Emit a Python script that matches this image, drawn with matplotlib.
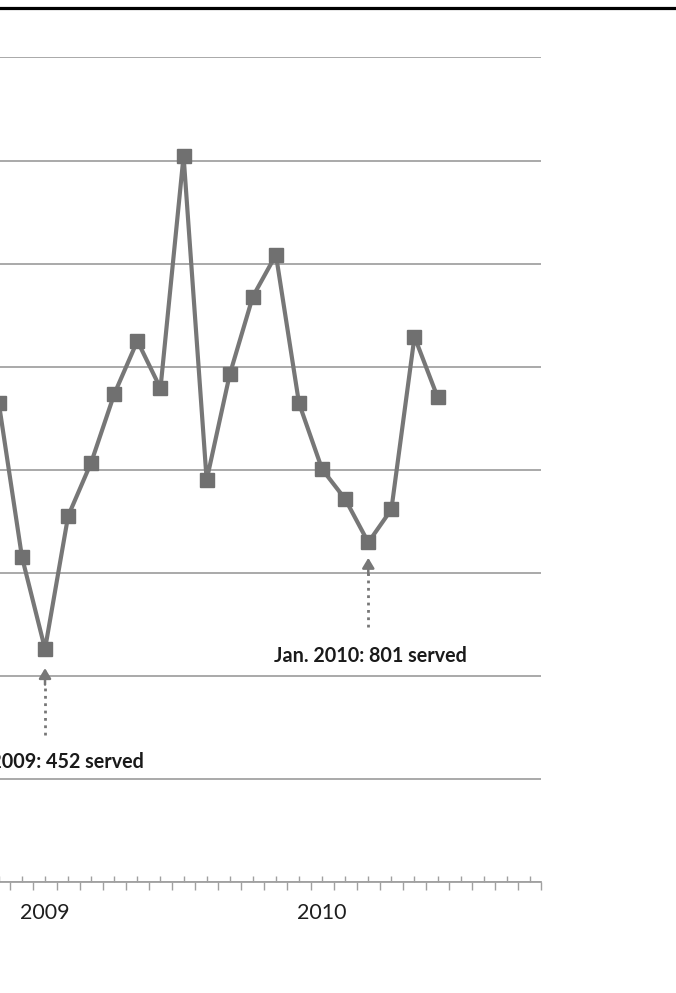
import matplotlib
matplotlib.use("Agg")
import matplotlib.pyplot as plt
from matplotlib.lines import Line2D
from matplotlib.ticker import FixedLocator

# monthly people served, Nov 2008 - Jun 2010
months = ["Nov 2008", "Dec 2008", "Jan 2009", "Feb 2009", "Mar 2009", "Apr 2009",
          "May 2009", "Jun 2009", "Jul 2009", "Aug 2009", "Sep 2009", "Oct 2009",
          "Nov 2009", "Dec 2009", "Jan 2010", "Feb 2010", "Mar 2010", "Apr 2010",
          "May 2010", "Jun 2010"]
served = [929, 631, 452, 710, 814, 947, 1050, 958, 1409, 780, 985, 1136,
          1217, 929, 801, 743, 659, 723, 1058, 941]

year_labels = ["2009", "2010"]
year_pos = [2, 14]          # index of January in months

notes = ["Jan. 2009: 452 served", "Jan. 2010: 801 served"]
note_x = [2, 16]            # where the arrows sit
note_tip = [415, 629]
note_tail = [285, 495]
note_text_y = [221, 427]

grey = "#777777"
x = list(range(len(months)))
n_slots = 24               # categories on the axis, partly cropped left

fig = plt.figure(figsize=(6.76, 9.93), dpi=100)
ax = fig.add_axes([-0.0188, 0.1118, 0.8198, 0.8303])

ax.plot(x, served, color=grey, lw=3.0, marker="s", markersize=10.5,
        markerfacecolor="#707070", markeredgecolor="#707070", zorder=3)

ax.set_xlim(-0.5, n_slots - 0.5)
ax.set_ylim(0, 1600)

# grid
ax.set_yticks(range(0, 1601, 200))
ax.yaxis.grid(True, color="#a2a2a2", lw=1.3)
ax.set_axisbelow(True)
ax.tick_params(axis="y", left=False, labelleft=False)

for s in ["top", "right", "left"]:
    ax.spines[s].set_visible(False)
ax.spines["bottom"].set_color("#a0a0a0")
ax.spines["bottom"].set_linewidth(1.3)

# ticks: boundaries below, centres above
ax.xaxis.set_major_locator(FixedLocator([i - 0.5 for i in range(n_slots + 1)]))
ax.xaxis.set_minor_locator(FixedLocator(list(range(n_slots)) + [n_slots - 0.5]))
ax.tick_params(axis="x", which="major", direction="out", length=6,
               width=1, color="#a0a0a0", labelbottom=False)
ax.tick_params(axis="x", which="minor", direction="in", length=4.5,
               width=1, color="#a0a0a0")

for lab, p in zip(year_labels, year_pos):
    ax.text(p, -0.038, lab, transform=ax.get_xaxis_transform(),
            ha="center", va="center", fontsize=15.5, family="Lato",
            color="#1e1e1e")

# annotations
for txt, nx, tip, tail, ty in zip(notes, note_x, note_tip, note_tail, note_text_y):
    ax.plot([nx, nx], [tail, tip - 30], color=grey, lw=2.0, ls=":",
            dash_capstyle="butt")
    ax.annotate("", xy=(nx, tip), xytext=(nx, tip - 32),
                arrowprops=dict(arrowstyle="-|>,head_length=0.6,head_width=0.36",
                                color=grey, lw=1.8, shrinkA=0, shrinkB=0))
    ax.text(nx + 0.1, ty, txt, ha="center", va="baseline", fontsize=14.2,
            family="Lato", fontweight="bold", color="#1a1a1a")

fig.add_artist(Line2D([0, 1], [0.992, 0.992], transform=fig.transFigure,
                      color="black", lw=2.3))

fig.savefig("out.png", dpi=100)
